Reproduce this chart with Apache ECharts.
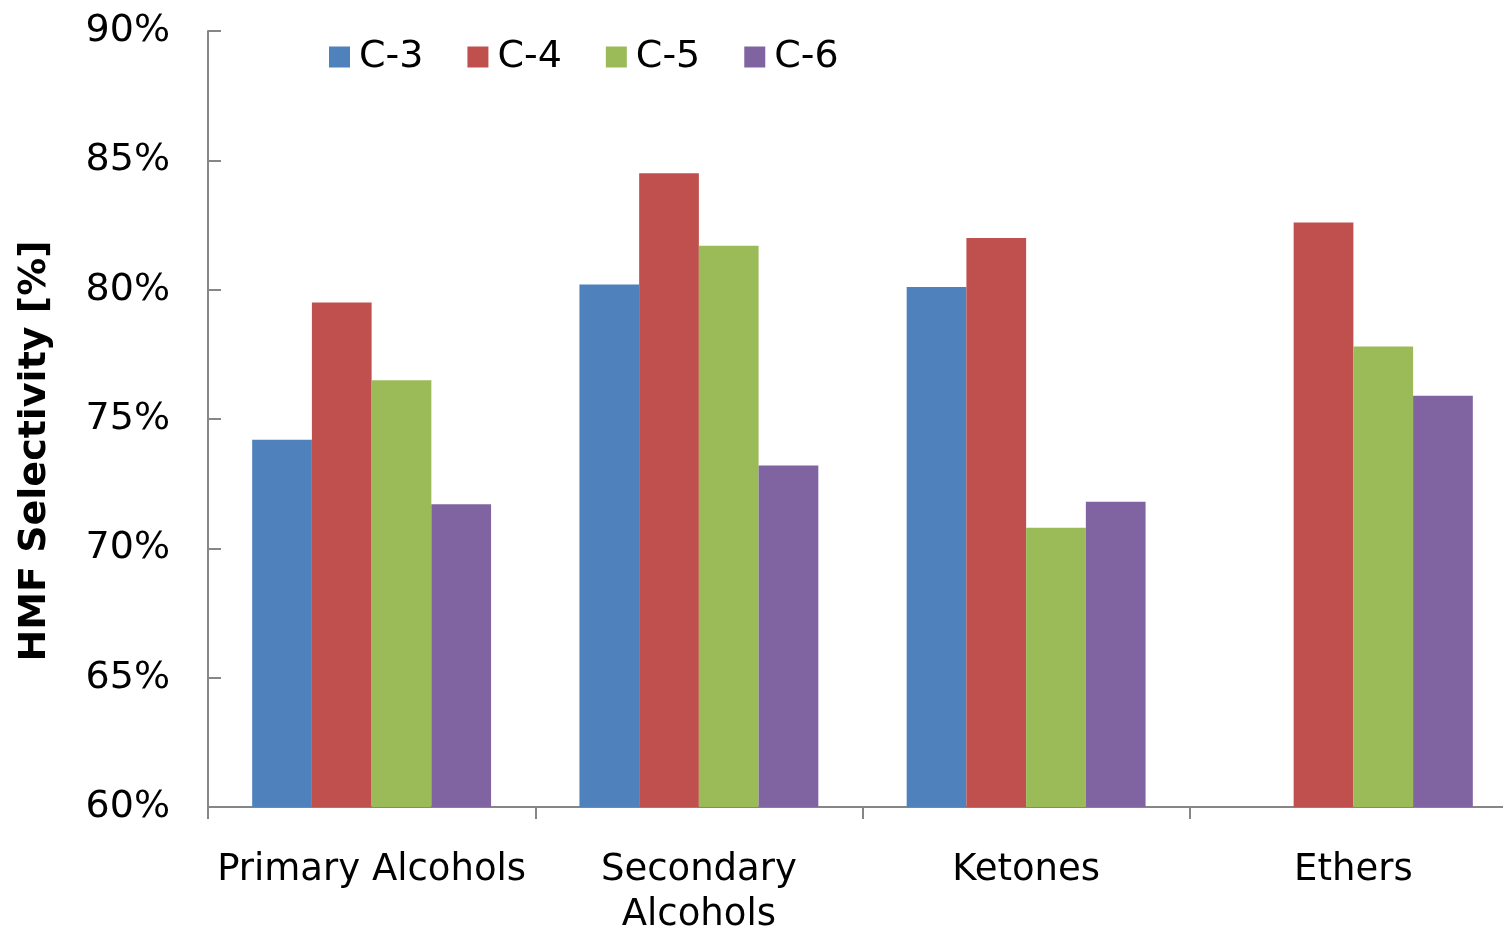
<!DOCTYPE html>
<html>
<head>
<meta charset="utf-8">
<script src="https://cdn.jsdelivr.net/npm/echarts@6/dist/echarts.min.js"></script>
<style>
  html, body { margin: 0; padding: 0; background: #fff; }
  #main { width: 1503px; height: 930px; }
</style>
</head>
<body>
<div id="main"></div>
<script>
var categories = ['Primary Alcohols', 'Secondary\nAlcohols', 'Ketones', 'Ethers'];
var seriesNames = ['C-3', 'C-4', 'C-5', 'C-6'];
var c3 = [74.2, 80.2, 80.1, null];
var c4 = [79.5, 84.5, 82.0, 82.6];
var c5 = [76.5, 81.7, 70.8, 77.8];
var c6 = [71.7, 73.2, 71.8, 75.9];
var colors = ['#4F81BD', '#C0504D', '#9BBB59', '#8064A2'];

var font = '"DejaVu Sans", Verdana, sans-serif';
var axisGray = '#868686';

var myChart = echarts.init(document.getElementById('main'));
var values = [c3, c4, c5, c6];
myChart.setOption({
    animation: false,
    color: colors,
    textStyle: { fontFamily: font },
    legend: {
        top: 33,
        left: 324,
        itemWidth: 21,
        itemHeight: 21,
        itemGap: 44,
        icon: 'rect',
        textStyle: { fontSize: 38, color: '#000', fontFamily: font, padding: [0, 0, 0, 4] },
        data: seriesNames
    },
    grid: {
        left: 208,
        right: -14,
        top: 31,
        bottom: 123,
        outerBoundsMode: 'none',
        containLabel: false
    },
    xAxis: {
        type: 'category',
        data: categories,
        axisLine: { lineStyle: { color: axisGray, width: 2 } },
        axisTick: { show: true, length: 12, lineStyle: { color: axisGray, width: 2 } },
        axisLabel: {
            interval: 0,
            fontSize: 37,
            color: '#000',
            margin: 41,
            lineHeight: 45,
            fontFamily: font
        }
    },
    yAxis: {
        type: 'value',
        min: 60,
        max: 90,
        interval: 5,
        name: 'HMF Selectivity [%]',
        nameLocation: 'middle',
        nameGap: 154,
        nameRotate: 90,
        nameTextStyle: {
            fontSize: 38, fontWeight: 'bold', color: '#000', fontFamily: font,
            padding: [0, 64, 0, 0]
        },
        axisLine: { show: true, lineStyle: { color: axisGray, width: 2 } },
        axisTick: { show: true, inside: true, length: 13, lineStyle: { color: axisGray, width: 2 } },
        splitLine: { show: false },
        axisLabel: {
            fontSize: 38,
            color: '#000',
            margin: 38,
            fontFamily: font,
            formatter: '{value}%'
        }
    },
    series: seriesNames.map(function (name, i) {
        return {
            name: name,
            type: 'bar',
            barGap: '0%',
            barCategoryGap: '27%',
            data: values[i]
        };
    })
});
</script>
</body>
</html>
